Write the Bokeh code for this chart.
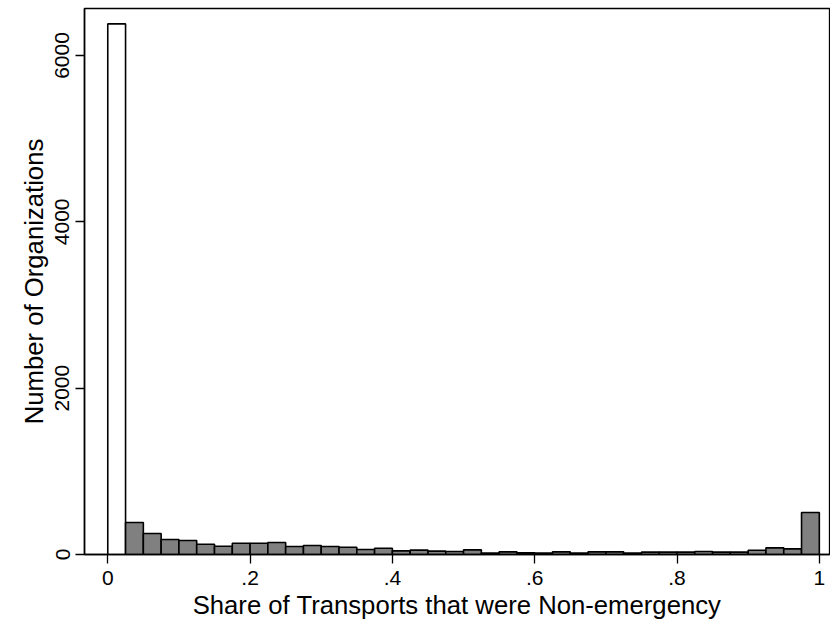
from bokeh.plotting import figure
from bokeh.models import FixedTicker, Range1d
from bokeh.embed import file_html
from bokeh.resources import INLINE
import numpy as np

# Histogram of share of non-emergency transports (bin width 0.025)
bin_width = 0.025
counts = [6380, 385, 253, 180, 168, 124, 100, 136, 136, 144,
          96, 108, 96, 88, 60, 76, 44, 53, 40, 36,
          56, 16, 32, 20, 16, 32, 16, 32, 32, 16,
          28, 28, 28, 36, 28, 28, 52, 80, 68, 505]
# first bin (share == 0) drawn hollow, the rest filled gray
bar_colors = ["white"] + ["#808080"] * (len(counts) - 1)

x_ticks = [0, 0.2, 0.4, 0.6, 0.8, 1]
x_tick_labels = ["0", ".2", ".4", ".6", ".8", "1"]
y_ticks = [0, 2000, 4000, 6000]
y_tick_labels = ["0", "2000", "4000", "6000"]

lefts = np.arange(len(counts)) * bin_width
rights = lefts + bin_width

FONT = "Liberation Sans"

p = figure(width=830, height=628, output_backend="svg", toolbar_location=None,
           x_range=Range1d(-0.0327, 1.0143), y_range=Range1d(0, 6565),
           min_border_left=84, min_border_right=1, min_border_top=8,
           min_border_bottom=74)

p.quad(left=lefts, right=rights, bottom=0, top=counts,
       fill_color=bar_colors, line_color="black", line_width=1.6)

p.grid.visible = False
p.outline_line_color = "black"
p.outline_line_width = 1.3
p.background_fill_color = "white"
p.border_fill_color = "white"

p.xaxis.ticker = FixedTicker(ticks=x_ticks)
p.xaxis.major_label_overrides = dict(zip(x_ticks, x_tick_labels))
p.yaxis.ticker = FixedTicker(ticks=y_ticks)
p.yaxis.major_label_overrides = dict(zip(y_ticks, y_tick_labels))

for ax in (p.xaxis, p.yaxis):
    ax.axis_line_color = "black"
    ax.axis_line_width = 1.6
    ax.major_tick_line_color = "black"
    ax.major_tick_line_width = 1.3
    ax.major_tick_in = 0
    ax.major_tick_out = 9
    ax.minor_tick_line_color = None
    ax.major_label_text_font = FONT
    ax.major_label_text_font_size = "21px"
    ax.major_label_text_color = "black"
    ax.axis_label_text_font = FONT
    ax.axis_label_text_font_size = "25.7px"
    ax.axis_label_text_font_style = "normal"
    ax.axis_label_text_color = "black"

p.xaxis.axis_label = "Share of Transports that were Non-emergency"
p.yaxis.axis_label = "Number of Organizations"
p.yaxis.major_label_orientation = "vertical"
p.xaxis.major_label_standoff = 7
p.yaxis.major_label_standoff = 6
p.xaxis.axis_label_standoff = 3
p.yaxis.axis_label_standoff = 5

open("out.html", "w").write(file_html(p, INLINE))
